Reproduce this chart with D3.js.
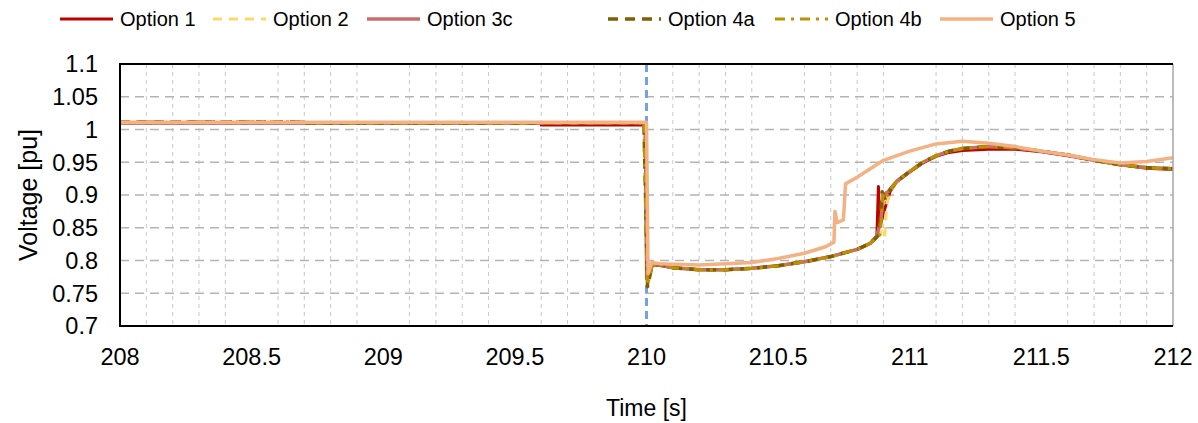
<!DOCTYPE html>
<html lang="en">
  <head>
    <meta charset="UTF-8" />
    <title>Voltage vs Time</title>
    <script src="https://d3js.org/d3.v7.min.js"></script>
    <style>
      body {
        margin: 0;
        padding: 0;
        background: #fff;
        font-family: "Liberation Sans", Arial, sans-serif;
      }
      svg {
        display: block;
      }
    </style>
  </head>
  <body>
    <svg width="1198" height="423"></svg>
    <script>
      // tick labels
      const xTicks = [208, 208.5, 209, 209.5, 210, 210.5, 211, 211.5, 212];
      const yTicks = [0.7, 0.75, 0.8, 0.85, 0.9, 0.95, 1, 1.05, 1.1];
      const faultTime = 210;

      // series, [time s, voltage pu]
      const option1 = [
        [208, 1.01], [209.6, 1.01], [209.6, 1.007], [209.995, 1.007],
        [210.0, 0.775], [210.02, 0.792], [210.04, 0.793], [210.1, 0.789],
        [210.2, 0.786], [210.3, 0.786], [210.4, 0.788], [210.5, 0.792],
        [210.6, 0.798], [210.7, 0.806], [210.8, 0.817], [210.85, 0.826],
        [210.875, 0.836], [210.881, 0.913], [210.887, 0.852], [210.9, 0.872],
        [210.925, 0.905], [210.95, 0.92], [211.0, 0.935], [211.05, 0.949],
        [211.1, 0.959], [211.15, 0.965], [211.2, 0.968], [211.3, 0.97],
        [211.4, 0.97], [211.5, 0.966], [211.6, 0.96], [211.7, 0.953],
        [211.8, 0.946], [211.9, 0.941], [212, 0.939]
      ];
      const option2 = [
        [208, 1.01], [209.995, 1.01], [210.003, 0.77], [210.02, 0.792],
        [210.04, 0.794], [210.1, 0.789], [210.2, 0.786], [210.3, 0.786],
        [210.4, 0.788], [210.5, 0.792], [210.6, 0.798], [210.7, 0.806],
        [210.8, 0.817], [210.85, 0.826], [210.87, 0.835], [210.895, 0.845],
        [210.905, 0.836], [210.912, 0.885], [210.925, 0.906], [210.95, 0.92],
        [211.0, 0.936], [211.05, 0.95], [211.1, 0.96], [211.15, 0.967],
        [211.2, 0.971], [211.3, 0.974], [211.4, 0.972], [211.5, 0.967],
        [211.6, 0.961], [211.7, 0.953], [211.8, 0.946], [211.9, 0.942],
        [212, 0.94]
      ];
      const option3c = [
        [208, 1.01], [209.995, 1.01], [210.003, 0.772], [210.02, 0.792],
        [210.04, 0.794], [210.1, 0.789], [210.2, 0.786], [210.3, 0.786],
        [210.4, 0.788], [210.5, 0.792], [210.6, 0.798], [210.7, 0.806],
        [210.8, 0.817], [210.85, 0.826], [210.875, 0.838], [210.89, 0.86],
        [210.9, 0.9], [210.92, 0.906], [210.95, 0.921], [211.0, 0.936],
        [211.05, 0.95], [211.1, 0.96], [211.15, 0.967], [211.2, 0.971],
        [211.3, 0.974], [211.4, 0.972], [211.5, 0.967], [211.6, 0.961],
        [211.7, 0.953], [211.8, 0.946], [211.9, 0.942], [212, 0.94]
      ];
      const option4a = [
        [208, 1.012], [208.7, 1.012], [208.7, 1.01], [209.99, 1.01],
        [210.004, 0.76], [210.02, 0.79], [210.04, 0.795], [210.1, 0.789],
        [210.2, 0.786], [210.3, 0.786], [210.4, 0.788], [210.5, 0.792],
        [210.6, 0.798], [210.7, 0.806], [210.8, 0.817], [210.85, 0.826],
        [210.885, 0.84], [210.895, 0.905], [210.905, 0.895], [210.93, 0.911],
        [210.95, 0.92], [211.0, 0.936], [211.05, 0.95], [211.1, 0.96],
        [211.15, 0.967], [211.2, 0.971], [211.3, 0.974], [211.4, 0.972],
        [211.5, 0.967], [211.6, 0.961], [211.7, 0.953], [211.8, 0.946],
        [211.9, 0.942], [212, 0.94]
      ];
      const option4b = [
        [208, 1.012], [208.7, 1.012], [208.7, 1.01], [209.99, 1.01],
        [210.004, 0.762], [210.02, 0.79], [210.04, 0.795], [210.1, 0.789],
        [210.2, 0.786], [210.3, 0.786], [210.4, 0.788], [210.5, 0.792],
        [210.6, 0.798], [210.7, 0.806], [210.8, 0.817], [210.85, 0.826],
        [210.888, 0.84], [210.898, 0.9], [210.908, 0.893], [210.93, 0.911],
        [210.95, 0.92], [211.0, 0.936], [211.05, 0.95], [211.1, 0.96],
        [211.15, 0.967], [211.2, 0.971], [211.3, 0.974], [211.4, 0.972],
        [211.5, 0.967], [211.6, 0.961], [211.7, 0.953], [211.8, 0.946],
        [211.9, 0.942], [212, 0.94]
      ];
      const option5 = [
        [208, 1.011], [210.0, 1.011], [210.006, 0.78], [210.02, 0.797],
        [210.05, 0.795], [210.2, 0.793], [210.4, 0.797], [210.5, 0.803],
        [210.6, 0.811], [210.68, 0.821], [210.712, 0.828], [210.716, 0.875],
        [210.724, 0.858], [210.748, 0.862], [210.756, 0.917], [210.8, 0.927],
        [210.9, 0.953], [211.0, 0.967], [211.1, 0.978], [211.2, 0.982],
        [211.3, 0.979], [211.4, 0.974], [211.5, 0.967], [211.6, 0.961],
        [211.7, 0.954], [211.8, 0.949], [211.9, 0.951], [212, 0.957]
      ];

      const series = [
        { name: "Option 1", data: option1, color: "#c00000", width: 3, dash: null },
        { name: "Option 2", data: option2, color: "#ffd966", width: 3, dash: "9,7" },
        { name: "Option 3c", data: option3c, color: "#c4706d", width: 3.5, dash: null },
        { name: "Option 4a", data: option4a, color: "#7f6000", width: 3.5, dash: "10,7" },
        { name: "Option 4b", data: option4b, color: "#bf9000", width: 3, dash: "10,6,3,6" },
        { name: "Option 5", data: option5, color: "#f4b183", width: 3.5, dash: null },
      ];
      // legend entry starts (px), as spaced in the original
      const legendX = [60, 213, 367, 608, 775, 940];

      const margin = { top: 64, right: 25, bottom: 97, left: 120 };
      const width = 1198 - margin.left - margin.right;
      const height = 423 - margin.top - margin.bottom;

      const svg = d3.select("svg");
      const g = svg
        .append("g")
        .attr("transform", `translate(${margin.left},${margin.top})`);

      const x = d3.scaleLinear().domain([208, 212]).range([0, width]);
      const y = d3.scaleLinear().domain([0.7, 1.1]).range([height, 0]);

      // minor vertical grid every 0.1 s, skipping the labelled half seconds
      const minorX = d3.range(1, 40)
        .filter((i) => i % 5 !== 0)
        .map((i) => 208 + i / 10);
      g.append("g")
        .selectAll("line")
        .data(minorX)
        .join("line")
        .attr("x1", (d) => x(d))
        .attr("x2", (d) => x(d))
        .attr("y1", 0)
        .attr("y2", height)
        .attr("stroke", "#c8c8c8")
        .attr("stroke-width", 1)
        .attr("stroke-dasharray", "4,4");

      // horizontal grid
      g.append("g")
        .selectAll("line")
        .data(yTicks.slice(1, -1))
        .join("line")
        .attr("x1", 0)
        .attr("x2", width)
        .attr("y1", (d) => y(d))
        .attr("y2", (d) => y(d))
        .attr("stroke", "#b4b4b4")
        .attr("stroke-width", 1.5)
        .attr("stroke-dasharray", "9,6");

      // fault marker
      g.append("line")
        .attr("x1", x(faultTime))
        .attr("x2", x(faultTime))
        .attr("y1", 0)
        .attr("y2", height)
        .attr("stroke", "#74a2e6")
        .attr("stroke-width", 3)
        .attr("stroke-dasharray", "8,5");

      const line = d3
        .line()
        .x((d) => x(d[0]))
        .y((d) => y(d[1]));

      g.append("g")
        .selectAll("path")
        .data(series)
        .join("path")
        .attr("d", (d) => line(d.data))
        .attr("fill", "none")
        .attr("stroke", (d) => d.color)
        .attr("stroke-width", (d) => d.width)
        .attr("stroke-dasharray", (d) => d.dash)
        .attr("stroke-linejoin", "round");

      // frame: right side grey, the rest black
      g.append("line")
        .attr("x1", width).attr("x2", width)
        .attr("y1", 0).attr("y2", height)
        .attr("stroke", "#a6a6a6").attr("stroke-width", 1.5);
      g.append("path")
        .attr("d", `M${width},0H0V${height}H${width}`)
        .attr("fill", "none")
        .attr("stroke", "#000")
        .attr("stroke-width", 2);

      // tick labels
      g.append("g")
        .selectAll("text")
        .data(xTicks)
        .join("text")
        .attr("x", (d) => x(d))
        .attr("y", height + 39)
        .attr("text-anchor", "middle")
        .attr("font-size", 23.5)
        .attr("fill", "#000")
        .text((d) => d);

      g.append("g")
        .selectAll("text")
        .data(yTicks)
        .join("text")
        .attr("x", -22)
        .attr("y", (d) => y(d))
        .attr("dy", "0.36em")
        .attr("text-anchor", "end")
        .attr("font-size", 23.5)
        .attr("fill", "#000")
        .text((d) => d);

      // axis titles
      g.append("text")
        .attr("x", width / 2)
        .attr("y", height + 90)
        .attr("text-anchor", "middle")
        .attr("font-size", 23)
        .attr("fill", "#000")
        .text("Time [s]");

      g.append("text")
        .attr("transform", `translate(${-83},${height / 2}) rotate(-90)`)
        .attr("text-anchor", "middle")
        .attr("font-size", 25)
        .attr("fill", "#000")
        .text("Voltage [pu]");

      // legend
      const legend = svg.append("g").attr("transform", "translate(0,19)");
      series.forEach((s, i) => {
        const lx = legendX[i];
        legend
          .append("line")
          .attr("x1", lx)
          .attr("x2", lx + 53)
          .attr("y1", 0)
          .attr("y2", 0)
          .attr("stroke", s.color)
          .attr("stroke-width", s.width)
          .attr("stroke-dasharray", s.dash);
        legend
          .append("text")
          .attr("x", lx + 60)
          .attr("y", 0)
          .attr("dy", "0.36em")
          .attr("font-size", 20)
          .attr("fill", "#000")
          .text(s.name);
      });
    </script>
  </body>
</html>
